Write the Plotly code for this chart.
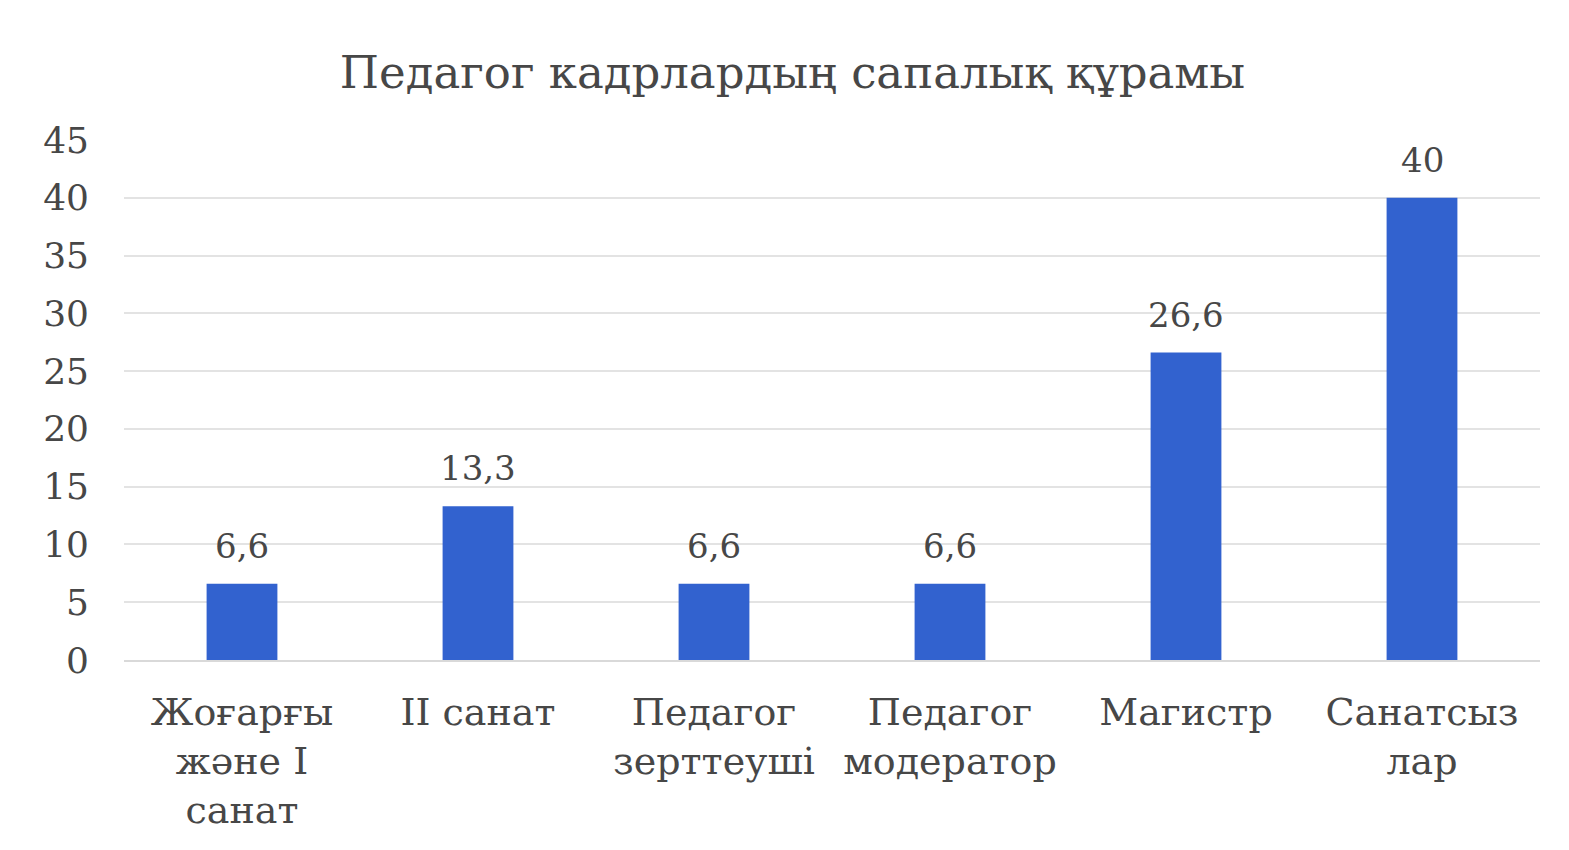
import plotly.graph_objects as go

categories = ["Жоғарғы<br>және I<br>санат", "II санат", "Педагог<br>зерттеуші", "Педагог<br>модератор", "Магистр", "Санатсыз<br>лар"]
values = [6.6, 13.3, 6.6, 6.6, 26.6, 40]
labels = ["6,6", "13,3", "6,6", "6,6", "26,6", "40"]
title_text = "Педагог кадрлардың сапалық құрамы"

FONT = "DejaVu Serif"
TXT = "#474747"

fig = go.Figure(go.Bar(
    x=categories, y=values,
    marker=dict(color="#3262CF", line=dict(width=0)),
    width=0.3,
))
for c, v, t in zip(categories, values, labels):
    fig.add_annotation(x=c, y=v, text=t, showarrow=False, yanchor="middle", yshift=38,
                       font=dict(family=FONT, size=34, color=TXT))
fig.update_layout(
    width=1569, height=850,
    paper_bgcolor="white", plot_bgcolor="white",
    margin=dict(l=116, r=37, t=132, b=198, autoexpand=False),
    title=dict(text=title_text, x=0.5, xanchor="center", y=0.925, yanchor="middle",
               font=dict(family=FONT, size=45, color=TXT)),
    font=dict(family=FONT, color=TXT),
    showlegend=False,
)
fig.update_yaxes(range=[0, 45], dtick=5, showgrid=True, gridcolor="#E3E3E3", gridwidth=2,
                 zeroline=False, tickfont=dict(size=36, color=TXT), ticklabelstandoff=34,
                 automargin=False)
fig.update_xaxes(showline=True, linecolor="#D9D9D9", linewidth=2,
                 tickfont=dict(size=38, color=TXT), ticks="", automargin=False,
                 ticklabelstandoff=17)
fig.write_html("out.html")
